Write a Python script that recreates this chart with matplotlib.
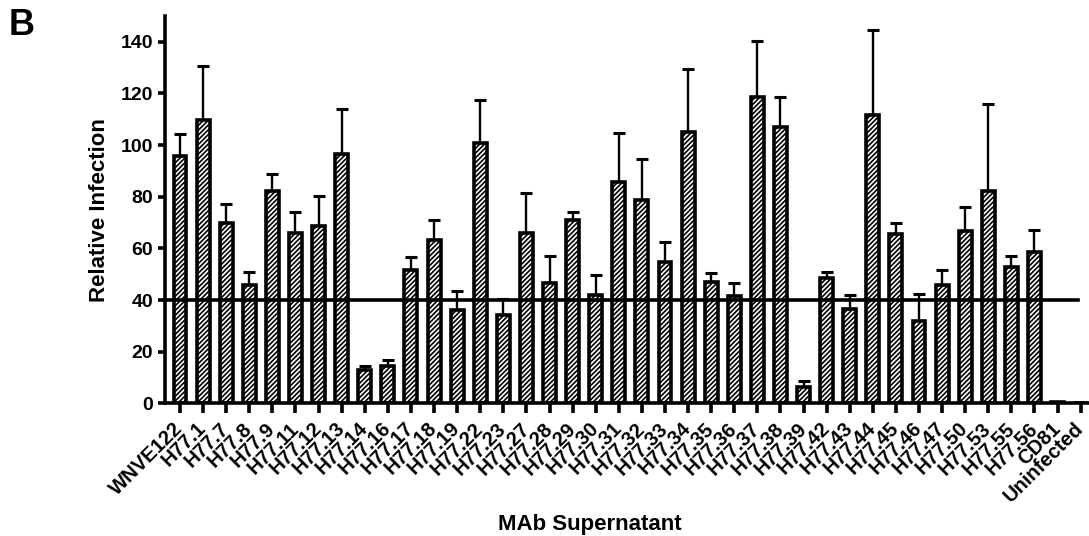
import numpy as np
import matplotlib.pyplot as plt

plt.rcParams['font.family'] = ['Liberation Sans', 'DejaVu Sans']
plt.rcParams['font.weight'] = 'bold'
plt.rcParams['axes.labelweight'] = 'bold'
plt.rcParams['hatch.linewidth'] = 1.2

# MAb supernatants
labels = ['WNVE122', 'H77.1', 'H77.7', 'H77.8', 'H77.9', 'H77.11', 'H77.12',
          'H77.13', 'H77.14', 'H77.16', 'H77.17', 'H77.18', 'H77.19', 'H77.22',
          'H77.23', 'H77.27', 'H77.28', 'H77.29', 'H77.30', 'H77.31', 'H77.32',
          'H77.33', 'H77.34', 'H77.35', 'H77.36', 'H77.37', 'H77.38', 'H77.39',
          'H77.42', 'H77.43', 'H77.44', 'H77.45', 'H77.46', 'H77.47', 'H77.50',
          'H77.53', 'H77.55', 'H77.56', 'CD81', 'Uninfected']

# relative infection (mean) and upper error
means = [95.9, 109.8, 69.7, 45.7, 82.3, 65.8, 68.7, 96.6, 13.0, 14.6,
         51.8, 63.1, 36.0, 100.7, 34.3, 66.1, 46.7, 71.0, 41.8, 85.8,
         78.8, 54.8, 105.0, 47.1, 41.5, 118.8, 107.0, 6.3, 48.7, 36.4,
         111.8, 65.7, 32.0, 45.8, 66.9, 82.2, 52.6, 58.6, 0.4, 0.0]
errs = [8.4, 20.9, 7.4, 5.2, 6.7, 8.1, 11.4, 17.4, 1.6, 2.0,
        4.8, 7.8, 7.4, 16.6, 6.0, 15.2, 10.3, 2.9, 7.7, 19.0,
        15.9, 7.8, 24.3, 3.2, 5.0, 21.4, 11.7, 2.4, 2.0, 5.7,
        32.6, 4.2, 10.4, 5.8, 9.1, 33.7, 4.6, 8.4, 0.0, 0.0]
cutoff = 40

x = np.arange(len(labels))

fig = plt.figure(figsize=(10.89, 5.36), dpi=100)
ax = fig.add_axes([0.1515, 0.2476, 0.8485, 0.7225])

ax.errorbar(x, means, yerr=[np.zeros(len(x)), errs], fmt='none',
            ecolor='black', elinewidth=1.7, capsize=4, capthick=2.2, zorder=1)
ax.bar(x, means, width=0.56, color='white', edgecolor='black',
       linewidth=2.6, hatch='///////', zorder=2)
ax.plot([-0.7, 38.87], [cutoff, cutoff], color='black', lw=2.6, zorder=3,
        clip_on=False)

ax.set_xlim(-0.65, 39.36)
ax.set_ylim(0, 150)
ax.set_yticks([0, 20, 40, 60, 80, 100, 120, 140])
ax.set_xticks(x)
ax.set_xticklabels(labels, rotation=45, ha='right', va='center',
                   rotation_mode='anchor', fontsize=14.5)
ax.tick_params(axis='y', labelsize=14, width=2.6, length=5, direction='out')
ax.tick_params(axis='x', width=2.6, length=7, direction='out', pad=9)
for s in ['top', 'right']:
    ax.spines[s].set_visible(False)
for s in ['left', 'bottom']:
    ax.spines[s].set_linewidth(2.6)

ax.set_ylabel('Relative Infection', fontsize=16, labelpad=8)
ax.set_xlabel('MAb Supernatant', fontsize=16)
ax.xaxis.set_label_coords(0.46, -0.285)

fig.text(0.008, 0.985, 'B', fontsize=26, fontweight='bold', va='top')

fig.savefig('out.png', dpi=100)
